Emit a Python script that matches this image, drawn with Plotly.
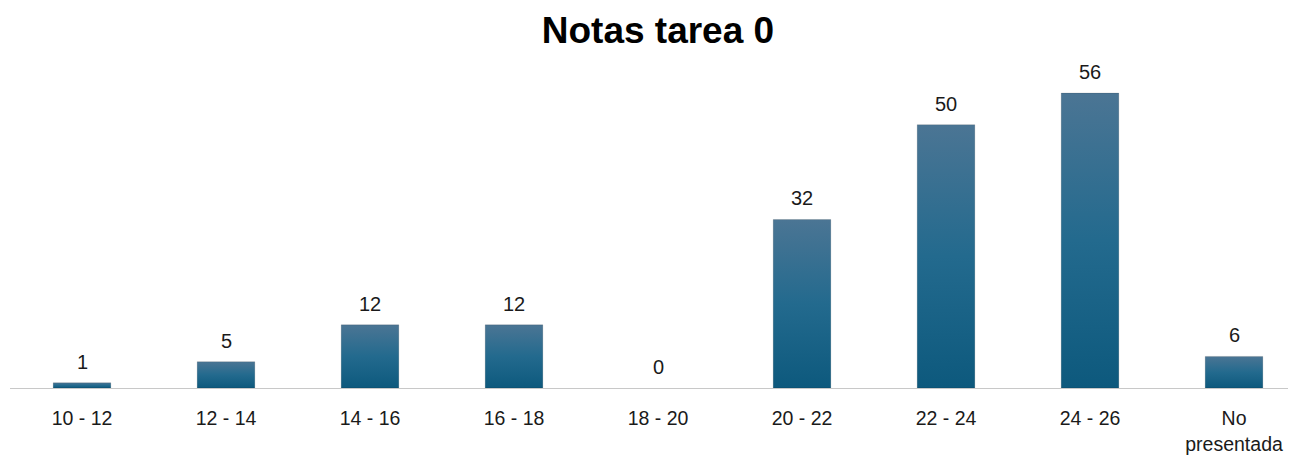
import plotly.graph_objects as go

categories = ["10 - 12", "12 - 14", "14 - 16", "16 - 18", "18 - 20",
              "20 - 22", "22 - 24", "24 - 26", "No<br>presentada"]
counts = [1, 5, 12, 12, 0, 32, 50, 56, 6]

title_text = "Notas tarea 0"
bar_half = 0.2
top_color = "#4b7594"
mid_color = "#236a8e"
bottom_color = "#0d597d"
font_family = "Liberation Sans, Arial, sans-serif"

fig = go.Figure()
xs = list(range(len(categories)))
for i, v in zip(xs, counts):
    if v <= 0:
        continue
    fig.add_trace(go.Scatter(
        x=[i - bar_half, i + bar_half, i + bar_half, i - bar_half, i - bar_half],
        y=[0, 0, v, v, 0],
        mode="lines",
        line=dict(color="rgba(0,0,0,0.12)", width=1),
        fill="toself",
        fillgradient=dict(type="vertical",
                          colorscale=[[0, bottom_color], [0.5, mid_color], [1, top_color]]),
        hoverinfo="skip",
        showlegend=False,
    ))

for i, v in zip(xs, counts):
    fig.add_annotation(x=i, y=v, text=str(v), showarrow=False,
                       yanchor="bottom", yshift=8,
                       font=dict(size=20, color="#1a1a1a", family=font_family))

fig.update_layout(
    width=1296, height=455,
    paper_bgcolor="white", plot_bgcolor="white",
    margin=dict(l=2, r=0, t=64, b=75),
    title=dict(text="<b>" + title_text + "</b>", x=0.5015, xanchor="center",
               y=0.952, yanchor="middle",
               font=dict(size=37, color="black", family=font_family)),
    font=dict(family=font_family, size=19, color="#1a1a1a"),
)
fig.update_xaxes(range=[-0.5, 8.486], tickvals=xs, ticktext=categories,
                 showgrid=False, zeroline=False, showline=True, linecolor="#c8c8c8",
                 linewidth=1, ticks="", ticklabelstandoff=13,
                 tickfont=dict(size=19.5, color="#1a1a1a"))
fig.update_yaxes(range=[0, 60], showgrid=False, zeroline=False, showticklabels=False,
                 showline=False, ticks="")

fig.write_html("out.html")
